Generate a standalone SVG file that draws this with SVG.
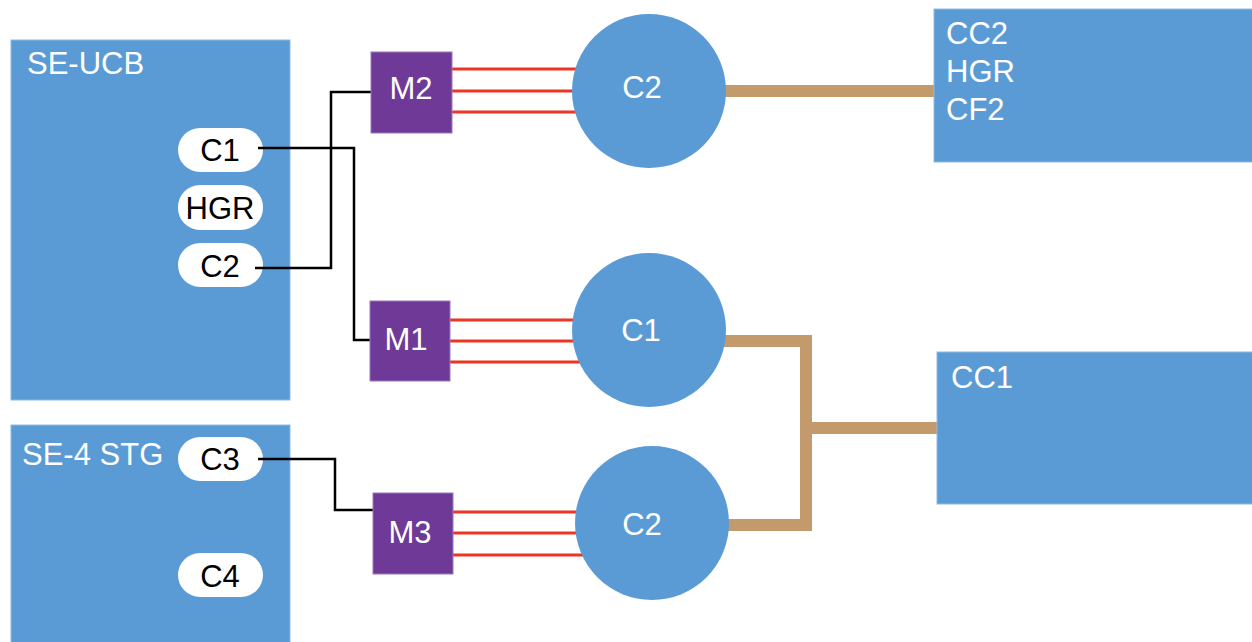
<svg xmlns="http://www.w3.org/2000/svg" width="1252" height="642" viewBox="0 0 1252 642">
<style>
.box{fill:#5B9BD5;stroke:#8DB9E3;stroke-width:1}
.pill{fill:#FFFFFF}
.mod{fill:#6F3A97;stroke:#9B79B8;stroke-width:1}
.circ{fill:#5B9BD5}
.wt{font-family:"Liberation Sans",Arial,sans-serif;font-size:31px;fill:#FFFFFF}
.bt{font-family:"Liberation Sans",Arial,sans-serif;font-size:31px;fill:#000000;text-anchor:middle}
.ct{text-anchor:middle}
.blk{fill:none;stroke:#000000;stroke-width:2.5}
.red{fill:none;stroke:#EE3524;stroke-width:3}
.tan{fill:none;stroke:#C39A6B;stroke-width:12}
</style>
<rect width="1252" height="642" fill="#FFFFFF"/>
<g id="se-ucb">
<rect class="box" x="11" y="40" width="279" height="360"/>
<text class="wt" x="27" y="74">SE-UCB</text>
</g>
<g id="ucb-c1">
<rect class="pill" x="178" y="128" width="85" height="44" rx="22"/>
<text class="bt" x="220" y="161">C1</text>
</g>
<g id="ucb-hgr">
<rect class="pill" x="178" y="185" width="85" height="45" rx="22"/>
<text class="bt" x="220" y="219">HGR</text>
</g>
<g id="ucb-c2">
<rect class="pill" x="178" y="243" width="85" height="44" rx="22"/>
<text class="bt" x="220" y="277">C2</text>
</g>
<g id="se-4-stg">
<rect class="box" x="11" y="425" width="279" height="222"/>
<text class="wt" x="22" y="465">SE-4 STG</text>
</g>
<g id="stg-c3">
<rect class="pill" x="178" y="437" width="85" height="44" rx="22"/>
<text class="bt" x="220" y="470">C3</text>
</g>
<g id="stg-c4">
<rect class="pill" x="178" y="553" width="85" height="44" rx="22"/>
<text class="bt" x="220" y="587">C4</text>
</g>
<g id="connectors">
<polyline class="blk" points="258,148 354,148 354,340 372,340"/>
<polyline class="blk" points="255,268 331,268 331,92 373,92"/>
<polyline class="blk" points="258,459 335,459 335,510 378,510"/>
<line class="red" x1="452" y1="69" x2="590" y2="69"/>
<line class="red" x1="452" y1="91" x2="590" y2="91"/>
<line class="red" x1="452" y1="112" x2="590" y2="112"/>
<line class="red" x1="450" y1="320" x2="590" y2="320"/>
<line class="red" x1="450" y1="341" x2="590" y2="341"/>
<line class="red" x1="450" y1="362" x2="590" y2="362"/>
<line class="red" x1="453" y1="512" x2="595" y2="512"/>
<line class="red" x1="453" y1="533" x2="595" y2="533"/>
<line class="red" x1="453" y1="555" x2="595" y2="555"/>
<line class="tan" x1="715" y1="91" x2="935" y2="91"/>
<polyline class="tan" points="715,341 806,341 806,525 718,525"/>
<line class="tan" x1="806" y1="428" x2="938" y2="428"/>
</g>
<g id="m2">
<rect class="mod" x="371" y="52" width="81" height="81"/>
<text class="wt ct" x="411" y="99">M2</text>
</g>
<g id="m1">
<rect class="mod" x="370" y="301" width="80" height="80"/>
<text class="wt ct" x="406" y="350">M1</text>
</g>
<g id="m3">
<rect class="mod" x="373" y="493" width="80" height="81"/>
<text class="wt ct" x="410" y="543">M3</text>
</g>
<g id="circle-c2-top">
<circle class="circ" cx="649" cy="91" r="77"/>
<text class="wt ct" x="642" y="98">C2</text>
</g>
<g id="circle-c1">
<circle class="circ" cx="649" cy="330" r="77"/>
<text class="wt ct" x="641" y="341">C1</text>
</g>
<g id="circle-c2-bottom">
<circle class="circ" cx="652" cy="523" r="77"/>
<text class="wt ct" x="642" y="535">C2</text>
</g>
<g id="cc2">
<rect class="box" x="934" y="9" width="320" height="153"/>
<text class="wt" x="946" y="44">CC2</text>
<text class="wt" x="946" y="82">HGR</text>
<text class="wt" x="946" y="120">CF2</text>
</g>
<g id="cc1">
<rect class="box" x="937" y="352" width="317" height="152"/>
<text class="wt" x="951" y="388">CC1</text>
</g>
</svg>
